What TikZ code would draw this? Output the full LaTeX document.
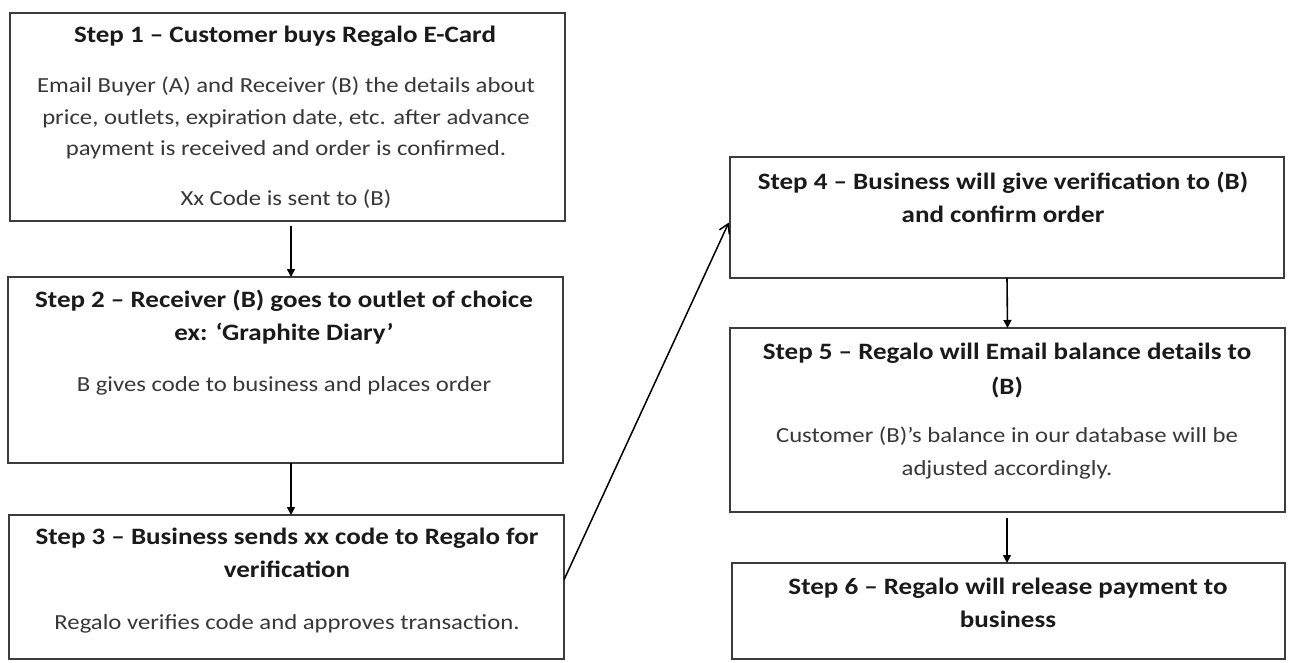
\documentclass[tikz,border=0pt]{standalone}
\usepackage{fontspec}
\setmainfont{Carlito}[FakeStretch=1.15]
\usetikzlibrary{arrows.meta,calc}
\definecolor{boxgray}{HTML}{3C3C3C}
\definecolor{titlecol}{HTML}{1A1A1A}
\definecolor{bodycol}{HTML}{383838}
\begin{document}
\begin{tikzpicture}[x=1pt,y=-1pt,
  stepbox/.style={draw=boxgray,line width=2.6pt,fill=white,inner sep=0pt,outer sep=0pt},
  ttl/.style={font=\fontsize{23.5}{28}\selectfont\bfseries,text=titlecol,anchor=base,inner sep=0pt},
  bdy/.style={font=\fontsize{21.5}{26}\selectfont,text=bodycol,anchor=base,inner sep=0pt},
  arr/.style={draw=black,line width=1.6pt,-{Triangle[length=8pt,width=8pt]}},
  darr/.style={draw=black,line width=1.5pt,-{Straight Barb[length=9pt,width=11pt,line width=1.5pt]}}]
\useasboundingbox[fill=white] (0,0) rectangle (1291,662);
% boxes
\node[stepbox,minimum width=555pt,minimum height=208pt] (b1) at (287.5,117) {};
\node[stepbox,minimum width=555pt,minimum height=186pt] (b2) at (285.5,370) {};
\node[stepbox,minimum width=555pt,minimum height=144pt] (b3) at (286.5,587) {};
\node[stepbox,minimum width=554pt,minimum height=121pt] (b4) at (1007,217.5) {};
\node[stepbox,minimum width=555pt,minimum height=184pt] (b5) at (1007.5,420) {};
\node[stepbox,minimum width=553pt,minimum height=96pt] (b6) at (1008.5,611) {};
% box 1 text
\node[ttl] (t1) at (285,42) {Step 1 – Customer buys Regalo E-Card};
\node[bdy] (t1a) at (286,92) {Email Buyer (A) and Receiver (B) the details about};
\node[bdy] (t1b) at (286,124) {price, outlets, expiration date, etc. after advance};
\node[bdy] (t1c) at (286,155) {payment is received and order is confirmed.};
\node[bdy] (t1d) at (286,205) {Xx Code is sent to (B)};
% box 2 text
\node[ttl] (t2) at (284,307) {Step 2 – Receiver (B) goes to outlet of choice};
\node[ttl] (t2b) at (284,340) {ex: ‘Graphite Diary’};
\node[bdy] (t2a) at (284,391) {B gives code to business and places order};
% box 3 text
\node[ttl] (t3) at (287,544) {Step 3 – Business sends xx code to Regalo for};
\node[ttl] (t3b) at (287,577) {verification};
\node[bdy] (t3a) at (287,629) {Regalo verifies code and approves transaction.};
% box 4 text
\node[ttl] (t4) at (1003,189) {Step 4 – Business will give verification to (B)};
\node[ttl] (t4b) at (1003,222) {and confirm order};
% box 5 text
\node[ttl] (t5) at (1007,359) {Step 5 – Regalo will Email balance details to};
\node[ttl] (t5b) at (1007,394) {(B)};
\node[bdy] (t5a) at (1007,442) {Customer (B)’s balance in our database will be};
\node[bdy] (t5c) at (1007,475) {adjusted accordingly.};
% box 6 text
\node[ttl] (t6) at (1008,594) {Step 6 – Regalo will release payment to};
\node[ttl] (t6b) at (1008,627) {business};
% connectors
\draw[arr,shorten <=5pt] (b1.south -| 291,0) -- (b2.north -| 291,0);
\draw[arr] (b2.south -| 291,0) -- (b3.north -| 291,0);
\draw[arr] (b4.south) -- (b5.north);
\draw[arr,shorten <=6pt] (b5.south -| 1007,0) -- (b6.north -| 1007,0);
\coordinate (d1) at ($(b3.north east)!0.45!(b3.south east)$);
\coordinate (d2) at ($(b4.north west)!0.52!(b4.south west)$);
\draw[darr,shorten >=3pt] (d1) -- (d2);
\end{tikzpicture}
\end{document}
